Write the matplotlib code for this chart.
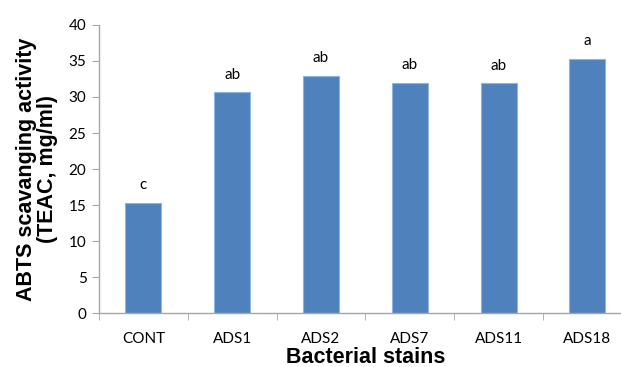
import matplotlib
matplotlib.use("Agg")
import matplotlib.pyplot as plt

strains = ['CONT', 'ADS1', 'ADS2', 'ADS7', 'ADS11', 'ADS18']
teac = [15.3, 30.65, 32.9, 32.0, 31.9, 35.3]
letters = ['c', 'ab', 'ab', 'ab', 'ab', 'a']

fig = plt.figure(figsize=(6.21, 3.67), dpi=100)
ax = fig.add_axes([0.1594, 0.1471, 0.858, 0.7848])

x = list(range(len(strains)))
ax.bar(x, teac, width=0.405, color='#4f81bd', edgecolor='#8eb4e3', linewidth=0.8, zorder=2)
for xi, v, t in zip(x, teac, letters):
    ax.text(xi, v + 1.9, t, ha='center', va='baseline', fontsize=11, family='Lato')

ax.set_xlim(-0.5, len(strains) - 0.5)
ax.set_ylim(0, 40)
ax.set_yticks(range(0, 41, 5))
ax.set_xticks(x)
ax.set_xticklabels(strains, family='Lato', fontsize=11)
ax.set_xticks([i - 0.5 for i in range(len(strains) + 1)], minor=True)
for lab in ax.get_yticklabels():
    lab.set_family('Lato')
    lab.set_fontsize(11)

ax.tick_params(axis='x', which='major', length=0, pad=14)
ax.tick_params(axis='x', which='minor', length=5, color='#a6a6a6', direction='out')
ax.tick_params(axis='y', length=5, color='#a6a6a6', direction='out', pad=4)

for s in ['top', 'right']:
    ax.spines[s].set_visible(False)
for s in ['left', 'bottom']:
    ax.spines[s].set_color('#a6a6a6')
    ax.spines[s].set_linewidth(1.0)

ax.set_xlabel('Bacterial stains', family='Liberation Sans', fontweight='bold', fontsize=15.5, labelpad=0.5)
ax.set_ylabel('ABTS scavanging activity\n(TEAC, mg/ml)', family='Liberation Sans', fontweight='bold',
              fontsize=15.5, linespacing=1.0, labelpad=8)

fig.savefig('out.png', dpi=100)
